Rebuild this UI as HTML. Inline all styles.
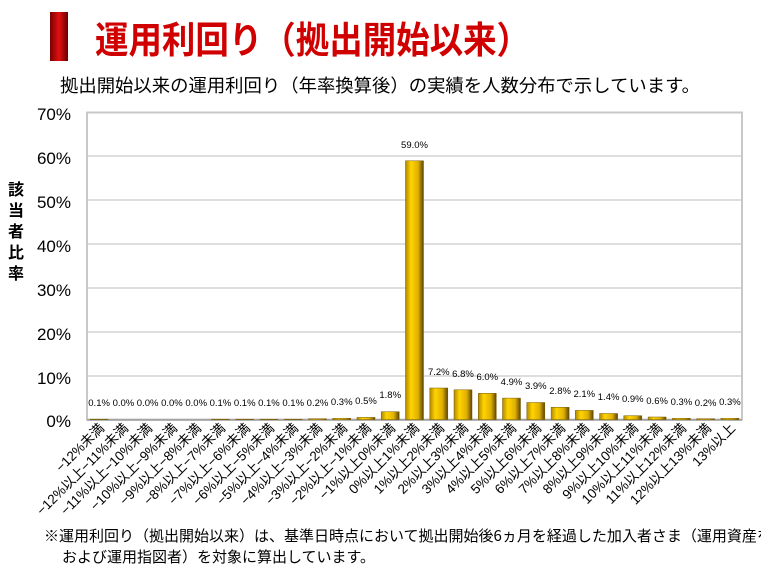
<!DOCTYPE html>
<html><head><meta charset="utf-8"><style>
body{margin:0;width:761px;height:573px;background:#fff;overflow:hidden;font-family:"Liberation Sans","Noto Sans CJK JP",sans-serif}
</style></head><body>
<svg width="761" height="573" viewBox="0 0 761 573" xmlns="http://www.w3.org/2000/svg" font-family="Liberation Sans, Noto Sans CJK JP, sans-serif">
<defs>
<linearGradient id="rb" x1="0" x2="1"><stop offset="0" stop-color="#7a0000"/><stop offset="0.5" stop-color="#e01010"/><stop offset="1" stop-color="#6a0000"/></linearGradient>
<linearGradient id="gb" x1="0" x2="1"><stop offset="0" stop-color="#b08800"/><stop offset="0.3" stop-color="#ffd400"/><stop offset="0.7" stop-color="#e0b000"/><stop offset="1" stop-color="#5a4400"/></linearGradient>
</defs>
<rect x="50" y="12" width="18" height="49" fill="url(#rb)"/>
<text x="95" y="53" font-size="37" font-weight="bold" fill="#d00000" font-family="Noto Sans CJK JP, sans-serif" textLength="435" lengthAdjust="spacingAndGlyphs">運用利回り（拠出開始以来）</text>
<text x="60" y="92" font-size="18" fill="#000" font-family="Noto Sans CJK JP, sans-serif" textLength="640" lengthAdjust="spacingAndGlyphs">拠出開始以来の運用利回り（年率換算後）の実績を人数分布で示しています。</text>
<g stroke="#d4d4d4" stroke-width="1.5">
<line x1="87" y1="156" x2="742" y2="156"/><line x1="87" y1="200" x2="742" y2="200"/><line x1="87" y1="244" x2="742" y2="244"/><line x1="87" y1="288" x2="742" y2="288"/><line x1="87" y1="332" x2="742" y2="332"/><line x1="87" y1="376" x2="742" y2="376"/>
</g>
<rect x="87" y="112.5" width="655" height="307" fill="none" stroke="#c8c8c8" stroke-width="2"/>
<line x1="87" y1="420" x2="742" y2="420" stroke="#999" stroke-width="1.5"/>
<g font-size="17" text-anchor="end" fill="#000">
<text x="71" y="120">70%</text><text x="71" y="164">60%</text><text x="71" y="208">50%</text><text x="71" y="252">40%</text><text x="71" y="296">30%</text><text x="71" y="340">20%</text><text x="71" y="384">10%</text><text x="71" y="427">0%</text>
</g>
<g font-size="16" font-weight="bold" text-anchor="middle" font-family="Noto Sans CJK JP, sans-serif">
<text x="16" y="195">該</text><text x="16" y="216">当</text><text x="16" y="237">者</text><text x="16" y="258">比</text><text x="16" y="279">率</text>
</g>
<g fill="url(#gb)" stroke="#7a5c00" stroke-width="0.5">
<rect x="90.1" y="419.2" width="18" height="0.4"/>
<rect x="211.4" y="419.2" width="18" height="0.4"/><rect x="235.7" y="419.2" width="18" height="0.4"/><rect x="259.9" y="419.2" width="18" height="0.4"/><rect x="284.2" y="419.2" width="18" height="0.4"/>
<rect x="308.5" y="418.7" width="18" height="0.9"/><rect x="332.7" y="418.3" width="18" height="1.3"/><rect x="357" y="417.4" width="18" height="2.2"/><rect x="381.2" y="411.7" width="18" height="7.9"/>
<rect x="405.5" y="160.8" width="18" height="258.8"/>
<rect x="429.8" y="388" width="18" height="31.6"/><rect x="454" y="389.8" width="18" height="29.8"/><rect x="478.3" y="393.3" width="18" height="26.3"/><rect x="502.5" y="398.1" width="18" height="21.5"/><rect x="526.8" y="402.5" width="18" height="17.1"/><rect x="551.1" y="407.3" width="18" height="12.3"/><rect x="575.3" y="410.4" width="18" height="9.2"/><rect x="599.6" y="413.5" width="18" height="6.1"/><rect x="623.8" y="415.7" width="18" height="3.9"/><rect x="648.1" y="417" width="18" height="2.6"/><rect x="672.4" y="418.3" width="18" height="1.3"/><rect x="696.6" y="418.7" width="18" height="0.9"/><rect x="720.9" y="418.3" width="18" height="1.3"/>
</g>
<g font-size="9.5" text-anchor="middle" fill="#000">
<text x="99.1" y="406">0.1%</text><text x="123.4" y="406">0.0%</text><text x="147.6" y="406">0.0%</text><text x="171.9" y="406">0.0%</text><text x="196.2" y="406">0.0%</text><text x="220.4" y="406">0.1%</text><text x="244.7" y="406">0.1%</text><text x="268.9" y="406">0.1%</text><text x="293.2" y="406">0.1%</text><text x="317.5" y="406">0.2%</text><text x="341.7" y="405">0.3%</text><text x="366" y="404">0.5%</text><text x="390.2" y="398">1.8%</text>
<text x="414.5" y="148">59.0%</text><text x="438.8" y="375">7.2%</text><text x="463" y="377">6.8%</text><text x="487.3" y="380">6.0%</text><text x="511.5" y="385">4.9%</text><text x="535.8" y="389">3.9%</text><text x="560.1" y="394">2.8%</text><text x="584.3" y="397">2.1%</text><text x="608.6" y="400">1.4%</text><text x="632.8" y="402">0.9%</text><text x="657.1" y="404">0.6%</text><text x="681.4" y="405">0.3%</text><text x="705.6" y="406">0.2%</text><text x="729.9" y="405">0.3%</text>
</g>
<g font-size="13.5" text-anchor="end" fill="#000" font-family="Liberation Sans, Noto Sans CJK JP, sans-serif">
<text transform="translate(105,429) rotate(-45)">−12%未満</text>
<text transform="translate(129,429) rotate(-45)">−12%以上−11%未満</text>
<text transform="translate(153,429) rotate(-45)">−11%以上−10%未満</text>
<text transform="translate(178,429) rotate(-45)">−10%以上−9%未満</text>
<text transform="translate(202,429) rotate(-45)">−9%以上−8%未満</text>
<text transform="translate(226,429) rotate(-45)">−8%以上−7%未満</text>
<text transform="translate(251,429) rotate(-45)">−7%以上−6%未満</text>
<text transform="translate(275,429) rotate(-45)">−6%以上−5%未満</text>
<text transform="translate(299,429) rotate(-45)">−5%以上−4%未満</text>
<text transform="translate(323,429) rotate(-45)">−4%以上−3%未満</text>
<text transform="translate(348,429) rotate(-45)">−3%以上−2%未満</text>
<text transform="translate(372,429) rotate(-45)">−2%以上−1%未満</text>
<text transform="translate(396,429) rotate(-45)">−1%以上0%未満</text>
<text transform="translate(420,429) rotate(-45)">0%以上1%未満</text>
<text transform="translate(445,429) rotate(-45)">1%以上2%未満</text>
<text transform="translate(469,429) rotate(-45)">2%以上3%未満</text>
<text transform="translate(493,429) rotate(-45)">3%以上4%未満</text>
<text transform="translate(517,429) rotate(-45)">4%以上5%未満</text>
<text transform="translate(542,429) rotate(-45)">5%以上6%未満</text>
<text transform="translate(566,429) rotate(-45)">6%以上7%未満</text>
<text transform="translate(590,429) rotate(-45)">7%以上8%未満</text>
<text transform="translate(614,429) rotate(-45)">8%以上9%未満</text>
<text transform="translate(639,429) rotate(-45)">9%以上10%未満</text>
<text transform="translate(663,429) rotate(-45)">10%以上11%未満</text>
<text transform="translate(687,429) rotate(-45)">11%以上12%未満</text>
<text transform="translate(712,429) rotate(-45)">12%以上13%未満</text>
<text transform="translate(736,429) rotate(-45)">13%以上</text>
</g>
<g font-size="15" fill="#000" font-family="Noto Sans CJK JP, sans-serif">
<text x="44" y="541">※運用利回り（拠出開始以来）は、基準日時点において拠出開始後6ヵ月を経過した加入者さま（運用資産を保有</text>
<text x="62" y="562">および運用指図者）を対象に算出しています。</text>
</g>
</svg>
</body></html>
